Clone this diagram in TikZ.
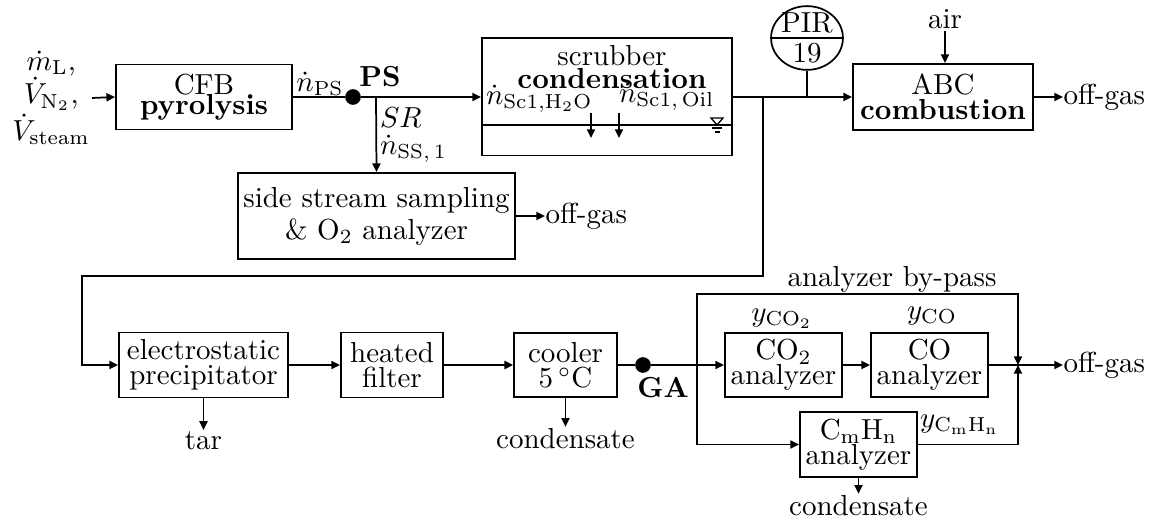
\documentclass[tikz,border=0pt]{standalone}
\usepackage{tikz}
\usetikzlibrary{shapes.geometric, positioning, arrows.meta}

\newcommand\tightlines{\lineskiplimit=-4pt\relax}

\tikzset{
  block/.style={draw, line width=0.65pt, inner sep=1pt, align=center,
    font=\fontsize{10}{8.6}\selectfont\tightlines},
  flow/.style={line width=0.6pt, -{Triangle[length=3pt,width=2.8pt]}},
  pipe/.style={line width=0.6pt},
  junc/.style={circle, fill, inner sep=0pt, minimum size=5.4pt},
  lbl/.style={inner sep=0.5pt, align=center}
}

\begin{document}
\begin{tikzpicture}[x=0.345pt, y=-0.345pt]
  \useasboundingbox (0,0) rectangle (1153,518);

  % upper line: pyrolysis, scrubber, combustion
  \node[lbl, anchor=east, font=\fontsize{10}{11.5}\selectfont] (feed) at (92,98)
    {$\dot m_\mathrm{L}$,\\$\dot V_{\mathrm{N}_2}$,\\$\dot V_\mathrm{steam}$};
  \node[block, minimum width=60.7pt, minimum height=22.4pt,
    font=\fontsize{10}{6.8}\selectfont\tightlines] (pyro) at (204,97) {CFB\\\textbf{pyrolysis}};
  \node[junc] (ps) at (353,97) {};
  \node[lbl] (npslbl) at (320,84) {$\dot n_\mathrm{PS}$};
  \node[lbl] (pslbl) at (380,77) {\textbf{PS}};
  \coordinate (sstap) at (376,97);
  \node[lbl, anchor=west] (srlbl) at (378,118) {$SR$};
  \node[lbl, anchor=west] (nsslbl) at (378,149) {$\dot n_{\mathrm{SS},\,1}$};

  \node[block, minimum width=86.3pt, minimum height=40.4pt] (scr) at (607,97) {};
  \node[lbl, font=\fontsize{10}{8}\selectfont\tightlines] (scrtxt) at (612,67) {scrubber\\\textbf{condensation}};
  \node[lbl, anchor=west] (nwat) at (484,99) {$\dot n_{\mathrm{Sc1,H_2O}}$};
  \node[lbl, anchor=west] (noil) at (617,97) {$\dot n_{\mathrm{Sc1},\,\mathrm{Oil}}$};
  \coordinate (watA) at (591,113);
  \coordinate (watB) at (591,138);
  \coordinate (oilA) at (619,113);
  \coordinate (oilB) at (619,138);
  \draw[pipe] (scr.west |- 0,125) -- (scr.east |- 0,125);
  \draw[flow] (watA) -- (watB);
  \draw[flow] (oilA) -- (oilB);
  % liquid level mark
  \draw[line width=0.45pt] (711,118) -- (723,118) -- (717,125) -- cycle;
  \draw[line width=0.45pt] (712,128) -- (722,128);
  \draw[line width=0.45pt] (714.5,132) -- (719.5,132);

  \node[draw, ellipse, line width=0.6pt, inner sep=0pt, minimum width=24.8pt, minimum height=22pt] (pir) at (807,38) {};
  \draw[pipe] (pir.west) -- (pir.east);
  \node[lbl] (pirtop) at (807,23) {PIR};
  \node[lbl] (pirnum) at (807,53) {19};
  \coordinate (tap) at (807,97);

  \node[block, minimum width=62.1pt, minimum height=22.8pt] (abc) at (943,97) {ABC\\\textbf{combustion}};
  \node[lbl] (air) at (945,19) {air};
  \node[lbl, anchor=west, inner sep=0pt] (off1) at (1063,97) {off-gas};

  \node[block, minimum width=95.6pt, minimum height=29.7pt,
    font=\fontsize{10}{11}\selectfont] (sss) at (376.5,216) {side stream sampling\\\& O$_2$ analyzer};
  \node[lbl, anchor=west, inner sep=0pt] (off2) at (545,216) {off-gas};

  \draw[flow] (feed.east) -- (pyro.west);
  \draw[pipe] (pyro.east) -- (ps);
  \draw[flow] (ps) -- (scr.west);
  \draw[flow] (sstap) -- (sss.north);
  \draw[flow] (sss.east) -- (off2.west);
  \draw[flow] (scr.east) -- (abc.west);
  \draw[pipe] (pir.south) -- (tap);
  \draw[flow] (air) -- (air |- abc.north);
  \draw[flow] (abc.east) -- (off1.west);

  % return line to lower train
  \coordinate (br) at (763,97);
  \coordinate (bend1) at (763,276);
  \coordinate (bend2) at (82,276);

  % lower line: gas cleaning and analyzers
  \node[block, minimum width=58.3pt, minimum height=22.4pt] (esp) at (203.5,365) {electrostatic\\precipitator};
  \node[block, minimum width=35.2pt, minimum height=22.4pt] (filt) at (392,365) {heated\\filter};
  \node[block, minimum width=35.5pt, minimum height=22.1pt] (cool) at (565.5,365) {cooler\\$5\,^\circ\mathrm{C}$};
  \node[lbl] (tar) at (203.5,441) {tar};
  \node[lbl] (cond1) at (565.5,439) {condensate};
  \node[junc] (ga) at (643,365) {};
  \node[lbl] (galbl) at (663,388) {\textbf{GA}};
  \coordinate (split) at (697,365);

  \node[block, minimum width=40.4pt, minimum height=22.1pt] (co2) at (783.5,365) {CO$_2$\\analyzer};
  \node[block, minimum width=40.4pt, minimum height=22.1pt] (co) at (929.5,365) {CO\\analyzer};
  \node[block, minimum width=40.4pt, minimum height=22.4pt] (cmhn) at (858.5,444.5) {C$_\mathrm{m}$H$_\mathrm{n}$\\analyzer};
  \node[lbl] (yco2) at (782,319) {$y_{\mathrm{CO_2}}$};
  \node[lbl] (yco) at (932,316) {$y_\mathrm{CO}$};
  \node[lbl, anchor=west] (ycmhn) at (918,425) {$y_{\mathrm{C_mH_n}}$};
  \node[lbl] (cond2) at (858.5,506) {condensate};
  \node[lbl] (bplbl) at (892,279) {analyzer by-pass};
  \coordinate (bpL) at (697,294);
  \coordinate (bpR) at (1018,294);
  \coordinate (mix) at (1018,365);
  \node[lbl, anchor=west, inner sep=0pt] (off3) at (1063,365) {off-gas};

  \draw[flow] (br) -- (bend1) -- (bend2) |- (esp.west);
  \draw[flow] (esp.east) -- (filt.west);
  \draw[flow] (filt.east) -- (cool.west);
  \draw[flow] (esp.south) -- (tar.north);
  \draw[flow] (cool.south) -- (cond1.north);
  \draw[pipe] (cool.east) -- (ga);
  \draw[flow] (ga) -- (co2.west);
  \draw[flow] (co2.east) -- (co.west);
  \draw[pipe] (co.east) -- (mix);
  \draw[flow] (split) -- (bpL) -- (bpR) -- (mix);
  \draw[flow] (split) |- (cmhn.west);
  \draw[flow] (cmhn.east) -| (mix);
  \draw[flow] (cmhn.south) -- (cond2.north);
  \draw[flow] (mix) -- (off3.west);
\end{tikzpicture}
\end{document}
